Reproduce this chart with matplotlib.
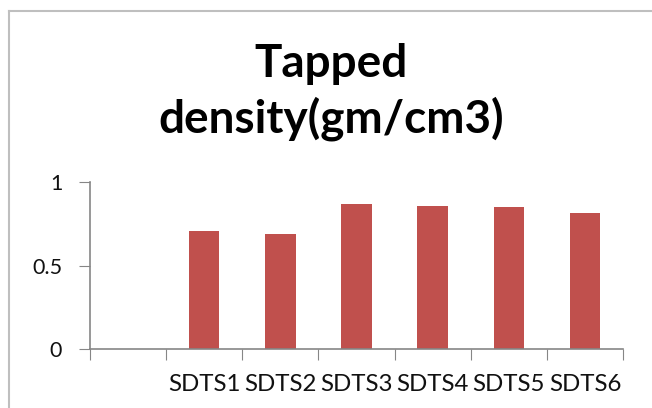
import matplotlib.pyplot as plt
from matplotlib.lines import Line2D

categories = ['', 'SDTS1', 'SDTS2', 'SDTS3', 'SDTS4', 'SDTS5', 'SDTS6']
values = [0, 0.707, 0.69, 0.868, 0.854, 0.852, 0.812]
yticks = [0, 0.5, 1]
ytick_labels = ['0', '0.5', '1']

plt.rcParams['font.family'] = ['Lato', 'DejaVu Sans']

fig = plt.figure(figsize=(6.52, 4.08), dpi=100)
ax = fig.add_axes([90 / 652, 1 - 349 / 408, 533 / 652, 167 / 408])

x = range(len(categories))
ax.bar(list(x)[1:], values[1:], width=0.4, color='#C0504D')

ax.set_xlim(-0.5, len(categories) - 0.5)
ax.set_ylim(0, 1)

grey = '#868686'
ax.set_xticks([i - 0.5 for i in range(len(categories) + 1)])
ax.set_xticklabels([])
ax.set_xticks(list(x), minor=True)
ax.set_xticklabels(categories, minor=True, fontsize=17.3, color='#111111')
ax.tick_params(axis='x', which='major', direction='out', length=8, color=grey)
ax.tick_params(axis='x', which='minor', length=0, pad=18)
ax.set_yticks(yticks)
ax.set_yticklabels(ytick_labels, fontsize=15.5, color='#111111')
ax.tick_params(axis='y', direction='out', length=8, color=grey, pad=12)

for s in ['top', 'right']:
    ax.spines[s].set_visible(False)
for s in ['left', 'bottom']:
    ax.spines[s].set_color(grey)
    ax.spines[s].set_linewidth(1.2)

fig.text(331 / 652, 1 - 92 / 408, 'Tapped\ndensity(gm/cm3)', ha='center', va='center',
         fontsize=33, fontweight='bold', linespacing=1.32)

# chart frame edges (left and top visible)
fig.add_artist(Line2D([8.5 / 652, 8.5 / 652], [0, 1 - 11 / 408], color='#BFBFBF', lw=1.5))
fig.add_artist(Line2D([8.5 / 652, 1], [1 - 11 / 408, 1 - 11 / 408], color='#BFBFBF', lw=1.5))

fig.savefig('out.png', dpi=100)
